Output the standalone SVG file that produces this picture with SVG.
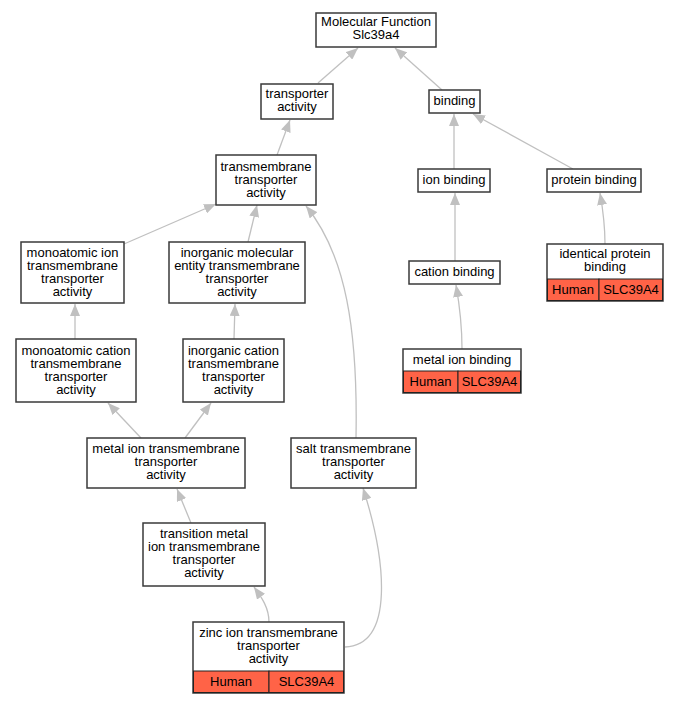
<svg xmlns="http://www.w3.org/2000/svg" width="679" height="704" viewBox="0 0 679 704">
<style>
.box{fill:#fff;stroke:#3a3a3a;stroke-width:1.5}
.cell{fill:#ff6347;stroke:#222;stroke-width:1}
.t{font-family:"Liberation Sans",Arial,sans-serif;font-size:13px;fill:#000;text-anchor:middle}
.e{fill:none;stroke:#c0c0c0;stroke-width:1.3;marker-end:url(#ah)}
</style>
<defs>
<marker id="ah" markerUnits="userSpaceOnUse" markerWidth="12" markerHeight="10" refX="12" refY="5" orient="auto" viewBox="0 0 12 10">
<path d="M0,0 L12,5 L0,10 z" fill="#c0c0c0"/>
</marker>
</defs>
<rect width="679" height="704" fill="#fff"/>
<g id="edges">
<path class="e" d="M318,83 L358,48"/>
<path class="e" d="M442,90 L395,48"/>
<path class="e" d="M277,155 L290,120"/>
<path class="e" d="M454,169 L454,114"/>
<path class="e" d="M573,169 L473,114"/>
<path class="e" d="M455,261 L455,193"/>
<path class="e" d="M605,244 C605,230 603,210 600,193"/>
<path class="e" d="M462,349 C462,330 459,302 456,285"/>
<path class="e" d="M124,244 L216,204"/>
<path class="e" d="M248,242 L257,205"/>
<path class="e" d="M356,438 C358,330 346,255 306,206"/>
<path class="e" d="M75,339 L75,304"/>
<path class="e" d="M234,339 L235,304"/>
<path class="e" d="M141,438 L108,403"/>
<path class="e" d="M185,438 L211,403"/>
<path class="e" d="M191,523 L177,489"/>
<path class="e" d="M269,622 C269,608 262,598 254,587"/>
<path class="e" d="M345,647 C395,645 386,560 363,488"/>
</g>
<g id="n_mf">
<rect class="box" x="316" y="13" width="120" height="34"/>
<text class="t" x="376" y="26">Molecular Function</text>
<text class="t" x="376" y="39">Slc39a4</text>
</g>
<g id="n_transporter">
<rect class="box" x="261" y="84" width="72" height="35"/>
<text class="t" x="297" y="98">transporter</text>
<text class="t" x="297" y="111">activity</text>
</g>
<g id="n_binding">
<rect class="box" x="429" y="90" width="51" height="23"/>
<text class="t" x="454.5" y="105">binding</text>
</g>
<g id="n_tm">
<rect class="box" x="216" y="155" width="100" height="50"/>
<text class="t" x="266" y="171">transmembrane</text>
<text class="t" x="266" y="184">transporter</text>
<text class="t" x="266" y="197">activity</text>
</g>
<g id="n_ionbinding">
<rect class="box" x="418" y="169" width="72" height="23"/>
<text class="t" x="454" y="184">ion binding</text>
</g>
<g id="n_proteinbinding">
<rect class="box" x="547" y="169" width="94" height="23"/>
<text class="t" x="594" y="184">protein binding</text>
</g>
<g id="n_cationbinding">
<rect class="box" x="409" y="261" width="91" height="23"/>
<text class="t" x="454.5" y="276">cation binding</text>
</g>
<g id="n_identical">
<rect class="box" x="547" y="244" width="116" height="57"/>
<text class="t" x="605" y="258">identical protein</text>
<text class="t" x="605" y="271">binding</text>
<rect class="cell" x="547.5" y="279" width="51.5" height="21.5"/>
<rect class="cell" x="599" y="279" width="63.5" height="21.5"/>
<text class="t" x="573" y="294">Human</text>
<text class="t" x="631" y="294">SLC39A4</text>
</g>
<g id="n_metalionbinding">
<rect class="box" x="403" y="349" width="118" height="44"/>
<text class="t" x="462" y="364">metal ion binding</text>
<rect class="cell" x="403.5" y="371" width="54.5" height="21.5"/>
<rect class="cell" x="458" y="371" width="62.5" height="21.5"/>
<text class="t" x="430.5" y="386">Human</text>
<text class="t" x="489.5" y="386">SLC39A4</text>
</g>
<g id="n_monoion">
<rect class="box" x="21" y="242" width="103" height="61"/>
<text class="t" x="72.5" y="257">monoatomic ion</text>
<text class="t" x="72.5" y="270">transmembrane</text>
<text class="t" x="72.5" y="283">transporter</text>
<text class="t" x="72.5" y="296">activity</text>
</g>
<g id="n_inorgmol">
<rect class="box" x="169" y="242" width="136" height="61"/>
<text class="t" x="237" y="257">inorganic molecular</text>
<text class="t" x="237" y="270">entity transmembrane</text>
<text class="t" x="237" y="283">transporter</text>
<text class="t" x="237" y="296">activity</text>
</g>
<g id="n_monocation">
<rect class="box" x="16" y="339" width="120" height="63"/>
<text class="t" x="76" y="355">monoatomic cation</text>
<text class="t" x="76" y="368">transmembrane</text>
<text class="t" x="76" y="381">transporter</text>
<text class="t" x="76" y="394">activity</text>
</g>
<g id="n_inorgcation">
<rect class="box" x="183" y="339" width="101" height="63"/>
<text class="t" x="233.5" y="355">inorganic cation</text>
<text class="t" x="233.5" y="368">transmembrane</text>
<text class="t" x="233.5" y="381">transporter</text>
<text class="t" x="233.5" y="394">activity</text>
</g>
<g id="n_metaliontm">
<rect class="box" x="87" y="438" width="158" height="50"/>
<text class="t" x="166" y="453">metal ion transmembrane</text>
<text class="t" x="166" y="466">transporter</text>
<text class="t" x="166" y="479">activity</text>
</g>
<g id="n_salt">
<rect class="box" x="291" y="438" width="125" height="50"/>
<text class="t" x="353.5" y="453">salt transmembrane</text>
<text class="t" x="353.5" y="466">transporter</text>
<text class="t" x="353.5" y="479">activity</text>
</g>
<g id="n_transition">
<rect class="box" x="143" y="523" width="122" height="63"/>
<text class="t" x="204" y="538">transition metal</text>
<text class="t" x="204" y="551">ion transmembrane</text>
<text class="t" x="204" y="564">transporter</text>
<text class="t" x="204" y="577">activity</text>
</g>
<g id="n_zinc">
<rect class="box" x="193" y="622" width="151" height="71"/>
<text class="t" x="268.5" y="637">zinc ion transmembrane</text>
<text class="t" x="268.5" y="650">transporter</text>
<text class="t" x="268.5" y="663">activity</text>
<rect class="cell" x="193.5" y="671" width="75.5" height="21.5"/>
<rect class="cell" x="269" y="671" width="74.5" height="21.5"/>
<text class="t" x="231" y="686">Human</text>
<text class="t" x="306.5" y="686">SLC39A4</text>
</g>
</svg>
